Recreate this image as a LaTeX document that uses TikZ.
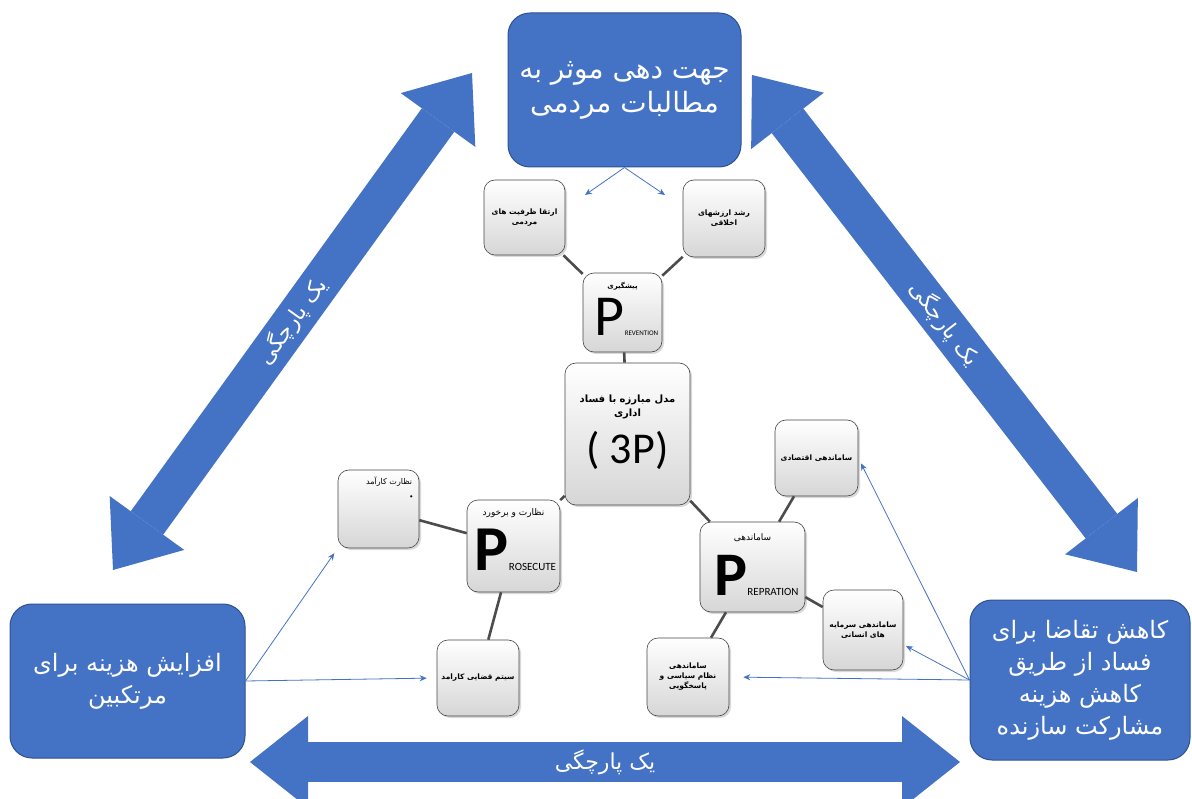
\documentclass[tikz,border=0pt]{standalone}
\usepackage{fontspec}
\setmainfont{Carlito}
\newfontfamily\arabicfont[Script=Arabic]{DejaVu Sans}
\TeXXeTstate=1
\usetikzlibrary{arrows.meta,calc,positioning,shadows}
\definecolor{mainblue}{HTML}{4472C4}
\definecolor{blueedge}{HTML}{2F528F}
\newcommand{\fatext}[1]{{\arabicfont\beginR #1\endR}}

\tikzset{
  bluebox/.style={draw=blueedge, line width=1pt, fill=mainblue, rounded corners=22pt,
                  text=white, inner sep=0pt, align=center,
                  font=\fontsize{24}{32}\selectfont},
  greybox/.style={draw=gray!55!black, line width=0.6pt, rounded corners=11pt,
                  top color=white, bottom color=gray!32,
                  drop shadow={opacity=0.3, shadow xshift=2pt, shadow yshift=-2pt},
                  inner sep=0pt, align=center, font=\fontsize{7.5}{10}\selectfont\bfseries},
  ptitle/.style={inner sep=0pt, align=center},
  pletter/.style={inner sep=0pt, anchor=base},
  link/.style={draw=black!70, line width=2.6pt},
  thinarrow/.style={draw=mainblue, line width=0.8pt, -{Stealth[length=7pt,width=6pt]}},
  bigarrow/.style={draw=mainblue, line width=40pt,
                   {Triangle[length=58pt,width=92pt,line width=0pt 0]}-{Triangle[length=58pt,width=92pt,line width=0pt 0]}},
  bandtext/.style={text=white, font=\fontsize{22}{26}\selectfont, inner sep=0pt}
}

\begin{document}
\begin{tikzpicture}[x=1pt,y=-1pt]
\useasboundingbox (0,0) rectangle (1192,799);
%
% big unity arrows
  \coordinate (left low) at (113,570) ;
  \coordinate (left high) at (472,73) ;
  \coordinate (right high) at (752,75) ;
  \coordinate (right low) at (1137,572) ;
  \coordinate (band left) at (250,762) ;
  \coordinate (band right) at (960,762) ;
  \draw [bigarrow] (left low) -- (left high)
        node [bandtext,midway,sloped] {\fatext{یک پارچگی}} ;
  \draw [bigarrow] (right high) -- (right low)
        node [bandtext,midway,sloped] {\fatext{یک پارچگی}} ;
  \draw [bigarrow] (band left) -- (band right)
        node [bandtext,midway] {\fatext{یک پارچگی}} ;
%
% blue goal boxes
  \node [bluebox,minimum width=233pt,minimum height=154pt,font=\fontsize{28}{34}\selectfont]
        (goal) at (624.5,90) {\fatext{جهت دهی موثر به}\\\fatext{مطالبات مردمی}} ;
  \node [bluebox,minimum width=235pt,minimum height=154pt] (cost) at (127.5,681)
        {\fatext{افزایش هزینه برای}\\\fatext{مرتکبین}} ;
  \node [bluebox,minimum width=220pt,minimum height=160pt] (demand) at (1080,680)
        {\fatext{کاهش تقاضا برای}\\\fatext{فساد از طریق}\\\fatext{کاهش هزینه}\\\fatext{مشارکت سازنده}} ;
%
% grey boxes
  \node [greybox,minimum width=81pt,minimum height=75pt] (capacity) at (524.5,217.5)
        {\fatext{ارتقا ظرفیت های}\\\fatext{مردمی}} ;
  \node [greybox,minimum width=82pt,minimum height=77pt] (ethics) at (724,218.5)
        {\fatext{رشد ارزشهای}\\\fatext{اخلاقی}} ;
  \node [greybox,minimum width=79pt,minimum height=79pt] (prevent) at (622.5,312.5) {} ;
  \node [greybox,minimum width=125pt,minimum height=142pt] (core) at (627.5,434) {} ;
  \node [greybox,minimum width=83pt,minimum height=76pt] (economy) at (816.5,458)
        {\fatext{ساماندهی اقتصادی}} ;
  \node [greybox,minimum width=105pt,minimum height=90pt] (prepare) at (752.5,567) {} ;
  \node [greybox,minimum width=80pt,minimum height=80pt] (human) at (863,630)
        {\fatext{ساماندهی سرمایه}\\\fatext{های انسانی}} ;
  \node [greybox,minimum width=82pt,minimum height=78pt] (politics) at (688,677)
        {\fatext{ساماندهی}\\\fatext{نظام سیاسی و}\\\fatext{پاسخگویی}} ;
  \node [greybox,minimum width=93pt,minimum height=92pt] (prosecute) at (513.5,546) {} ;
  \node [greybox,minimum width=81pt,minimum height=78pt] (oversight) at (378.5,509) {} ;
  \node [greybox,minimum width=82pt,minimum height=76pt] (judiciary) at (478,678)
        {\fatext{سیتم قضایی کارامد}} ;
%
% texts inside the P boxes
  \node [ptitle,below=9pt of prevent.north,font=\fontsize{7}{8}\selectfont\bfseries] (prevent title)
        {\fatext{پیشگیری}} ;
  \node [pletter] (prevent letter) at ([xshift=4pt,yshift=17pt]prevent.south)
        {{\fontsize{58}{58}\selectfont P}{\fontsize{7}{7}\selectfont REVENTION}} ;
  \node [ptitle,below=12pt of prepare.north,font=\fontsize{9}{10}\selectfont] (prepare title)
        {\fatext{ساماندهی}} ;
  \node [pletter] (prepare letter) at ([xshift=4pt,yshift=17pt]prepare.south)
        {{\fontsize{62}{62}\selectfont\bfseries P}{\fontsize{11}{11}\selectfont REPRATION}} ;
  \node [ptitle,below=9pt of prosecute.north,font=\fontsize{9}{10}\selectfont] (prosecute title)
        {\fatext{نظارت و برخورد}} ;
  \node [pletter] (prosecute letter) at ([xshift=2pt,yshift=22pt]prosecute.south)
        {{\fontsize{64}{64}\selectfont\bfseries P}{\fontsize{11}{11}\selectfont ROSECUTE}} ;
  \node [ptitle,below=32pt of core.north,font=\fontsize{10}{14}\selectfont\bfseries] (core title)
        {\fatext{مدل مبارزه با فساد}\\\fatext{اداری}} ;
  \node [ptitle] (core mark) at ([yshift=-16pt]core.center) {\fontsize{44}{44}\selectfont ( 3P)} ;
  \node [ptitle,anchor=north east,font=\fontsize{8}{10}\selectfont] (oversight title)
        at ([xshift=-7pt,yshift=-7pt]oversight.north east) {\fatext{نظارت کارآمد}} ;
  \node [ptitle] (oversight dot) at ([xshift=-8pt,yshift=-27pt]oversight.north east)
        {\fontsize{6}{6}\selectfont\textbullet} ;
%
% grey links
  \draw [link] (capacity) -- (prevent) ;
  \draw [link] (ethics) -- (prevent) ;
  \draw [link] (prevent) -- (core) ;
  \draw [link] (core) -- (prosecute) ;
  \draw [link] (core) -- (prepare) ;
  \draw [link] (prosecute) -- (oversight) ;
  \draw [link] (prosecute) -- (judiciary) ;
  \draw [link] (prepare) -- (economy) ;
  \draw [link] (prepare) -- (human) ;
  \draw [link] (prepare) -- (politics) ;
%
% thin blue arrows
  \coordinate (goal left) at (585,195) ;
  \coordinate (goal right) at (665,195) ;
  \coordinate (human gap) at (906,646) ;
  \draw [thinarrow] (goal.south) -- (goal left) ;
  \draw [thinarrow] (goal.south) -- (goal right) ;
  \draw [thinarrow,shorten >=6pt] (cost.east) -- (oversight.south west) ;
  \draw [thinarrow,shorten >=10pt] (cost.east) -- (judiciary.west) ;
  \draw [thinarrow,shorten >=6pt] (demand.west) -- (economy.east) ;
  \draw [thinarrow] (demand.west) -- (human gap) ;
  \draw [thinarrow,shorten >=14pt] (demand.west) -- (politics.east) ;
%
\end{tikzpicture}
\end{document}
